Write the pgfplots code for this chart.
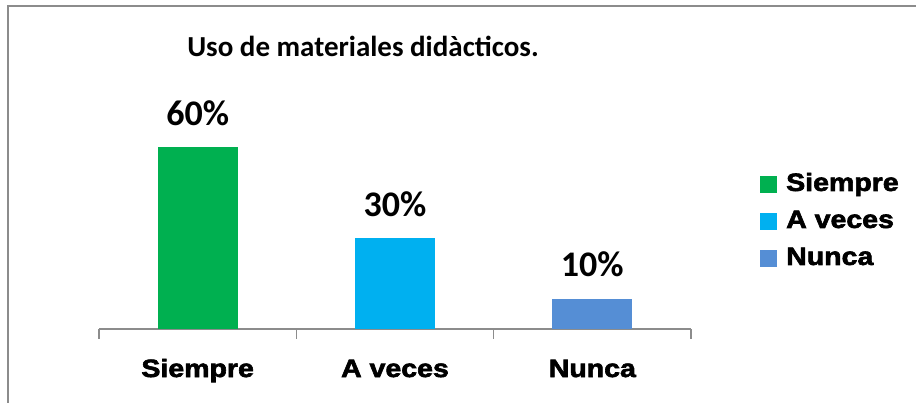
\documentclass[border=0pt]{standalone}
\usepackage{pgfplots}
\pgfplotsset{compat=1.18}
\usepackage{fontspec}
\setmainfont{Carlito}
\newfontfamily\lab{Liberation Sans Bold}[FakeStretch=1.14,FakeBold=2.5]
\definecolor{cG}{HTML}{00B050}
\definecolor{cB}{HTML}{00B0F0}
\definecolor{cN}{HTML}{558ED5}
\begin{document}
\begin{tikzpicture}
\path[use as bounding box] (0,0) rectangle (916bp,403bp);
\draw[color=black!45, line width=1.5bp] (8bp,0) -- (8bp,397bp) -- (916bp,397bp);
\node[font=\bfseries\fontsize{29bp}{34bp}\selectfont, anchor=base] at (363bp,346bp) {Uso de materiales didàcticos.};
\begin{axis}[
  at={(99bp,74bp)}, anchor=south west, scale only axis,
  width=592bp, height=212bp,
  xmin=-0.5, xmax=2.5, ymin=0, ymax=70,
  axis x line=bottom, axis y line=none,
  axis line style={-, draw=black!45, line width=1.2bp},
  xtick={0,1,2}, xticklabels={Siempre, A veces, Nunca},
  major tick length=0pt,
  minor xtick={-0.5,0.5,1.5,2.5}, minor tick length=10bp,
  tick align=outside,
  minor tick style={draw=black!45, line width=1.2bp},
  xticklabel style={font=\lab\fontsize{25bp}{29bp}\selectfont, anchor=base, yshift=-48bp},
  /pgf/number format/assume math mode=true,
  ybar, bar width=80bp, bar shift=0pt,
  nodes near coords={\pgfmathprintnumber\pgfplotspointmeta\%},
  nodes near coords style={font=\bfseries\fontsize{36bp}{40bp}\selectfont, anchor=base, yshift=22bp, black},
  legend style={at={(1.1166,0.505)}, anchor=west, draw=none, fill=none, inner sep=0pt,
    row sep=15bp, font=\lab\fontsize{25bp}{29bp}\selectfont,
    nodes={inner sep=0pt, text height=17bp, text depth=5bp},
    /tikz/every odd column/.style={column sep=9bp}},
  legend cell align=left,
  legend image code/.code={\fill[#1] (0bp,-8.5bp) rectangle (17bp,8.5bp);},
]
\addplot[fill=cG, draw=none] coordinates {(0,60)};
\addplot[fill=cB, draw=none] coordinates {(1,30)};
\addplot[fill=cN, draw=none] coordinates {(2,10)};
\legend{Siempre, A veces, Nunca}
\end{axis}
\end{tikzpicture}
\end{document}
